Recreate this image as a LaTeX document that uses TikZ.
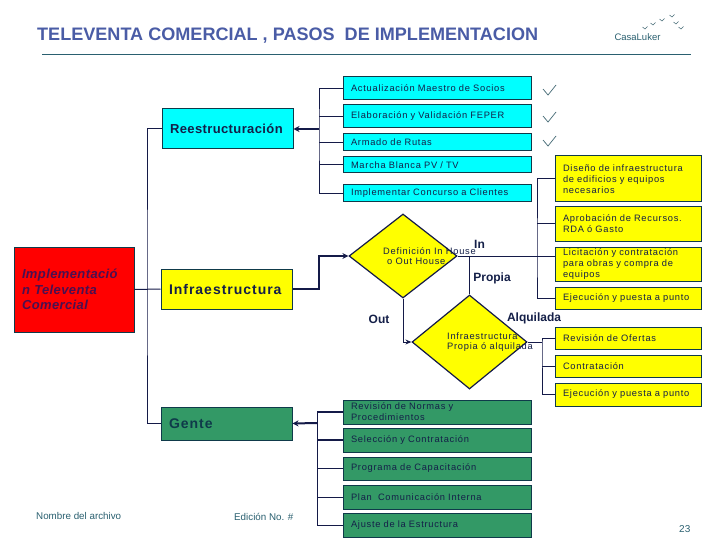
\documentclass[tikz,border=0pt]{standalone}
\usepackage{fontspec}
\setmainfont{Liberation Sans}
\newfontfamily\spaced[LetterSpace=8]{Liberation Sans}
\newfontfamily\spacedb[LetterSpace=3]{Liberation Sans}
\newfontfamily\spacedc[LetterSpace=3]{Liberation Sans}
\newfontfamily\spacedd[LetterSpace=7]{Liberation Sans}
\usetikzlibrary{shapes.geometric,arrows.meta,calc}
\definecolor{navy}{HTML}{141A48}
\definecolor{edgeteal}{HTML}{0F3A4A}
\definecolor{inktext}{HTML}{141F48}
\definecolor{titleblue}{HTML}{4A5CA6}
\definecolor{footteal}{HTML}{2A6070}
\definecolor{gengreen}{HTML}{339966}
\definecolor{pv}{HTML}{4A1050}
\definecolor{boxcyan}{RGB}{0,255,255}
\definecolor{boxyellow}{RGB}{255,255,0}
\definecolor{boxred}{RGB}{255,0,0}
\tikzset{
  x=1pt,y=-1pt,
  cbox/.style n args={3}{draw=edgeteal,line width=1pt,fill=#3,minimum width=#1 pt,minimum height=#2 pt,
     text width=#1 pt-16pt,inner xsep=8pt,inner ysep=0pt,align=left,text=inktext,
     font=\fontsize{9.3}{11}\selectfont\spaced},
  decide/.style={diamond,draw=navy,line width=1.2pt,fill=boxyellow,inner sep=0pt,aspect=1.3},
  thin link/.style={draw=navy,line width=1pt},
  thick link/.style={draw=navy,line width=2pt},
  linktip/.style={-{Stealth[length=6pt,width=6pt]}},
  edgetext/.style={font=\fontsize{12}{14}\selectfont\bfseries,text=inktext,inner sep=0pt},
  dtext/.style={font=\fontsize{9.3}{10}\selectfont\spaced,text=inktext,align=left,inner sep=0pt,anchor=west},
  foot/.style={font=\fontsize{9.8}{11}\selectfont,text=footteal,inner sep=0pt},
  birdmark/.style={draw=footteal!70!gray,line width=.5pt},
}
\begin{document}
\begin{tikzpicture}
\useasboundingbox (0,0) rectangle (720,540);
\fill[white] (0,0) rectangle (720,540);
% header
\node[anchor=west,inner sep=0pt,text=titleblue,font=\fontsize{18.07}{20}\selectfont\bfseries] (title) at (37,36) {TELEVENTA COMERCIAL , PASOS\ \ DE IMPLEMENTACION};
\coordinate (ruleL) at (42,54); \coordinate (ruleR) at (691,54);
\draw[draw=footteal,line width=.8pt] (ruleL) -- (ruleR);
\node[inner sep=0pt,text=footteal,font=\fontsize{9.5}{12}\selectfont] (logo) at (637.5,37) {CasaLuker};
\foreach \px/\py in {645/28,653/24,662/20,672/16,676/23,681/28}
  \draw[birdmark] (\px-2.5,\py-1) -- (\px,\py+1) -- (\px+2.5,\py-1.5);
\foreach \py in {90,117,141}
  \draw[birdmark,line width=.7pt] (543,\py-1) -- (548,\py+5) -- (556,\py-5);
% main
\node[cbox={120}{85}{boxred},font=\fontsize{13}{15.5}\selectfont\spacedb\bfseries\itshape,text=pv] (root) at (74,289.5) {Implementació\\n Televenta\\Comercial};
\node[cbox={131}{40}{boxcyan},font=\fontsize{13}{15}\selectfont\spacedc\bfseries] (reest) at (227.5,129) {Reestructuración};
\node[cbox={131}{40}{boxyellow},font=\fontsize{14}{15}\selectfont\spacedd\bfseries] (infra) at (226.5,289) {Infraestructura};
\node[cbox={131}{33}{gengreen},font=\fontsize{14}{15}\selectfont\spacedd\bfseries,text=edgeteal] (gente) at (226.5,423.5) {Gente};
% cyan
\node[cbox={188}{23}{boxcyan}] (a1) at (437,88.5) {Actualización Maestro de Socios};
\node[cbox={188}{23}{boxcyan}] (a2) at (437,116.5) {Elaboración y Validación FEPER};
\node[cbox={188}{17}{boxcyan}] (a3) at (437,142.5) {Armado de Rutas};
\node[cbox={188}{16}{boxcyan}] (a4) at (437,165) {Marcha Blanca PV / TV};
\node[cbox={188}{17}{boxcyan}] (a5) at (437,193.5) {Implementar Concurso a Clientes};
% yellow
\node[cbox={146}{46}{boxyellow}] (y1) at (628,179) {Diseño de infraestructura\\de edificios y equipos\\necesarios};
\node[cbox={146}{34}{boxyellow}] (y2) at (628,224) {Aprobación de Recursos.\\RDA ó Gasto};
\node[cbox={146}{34}{boxyellow}] (y3) at (628,264) {Licitación y contratación\\para obras y compra de\\equipos};
\node[cbox={146}{22}{boxyellow}] (y4) at (628,298) {Ejecución y puesta a punto};
\node[cbox={146}{22}{boxyellow}] (y5) at (628,338) {Revisión de Ofertas};
\node[cbox={146}{22}{boxyellow}] (y6) at (628,366) {Contratación};
\node[cbox={146}{23}{boxyellow}] (y7) at (628,394.5) {Ejecución y puesta a punto};
% green
\node[cbox={188}{24}{gengreen}] (g1) at (437,412) {Revisión de Normas y\\Procedimientos};
\node[cbox={188}{24}{gengreen}] (g2) at (437,440) {Selección y Contratación};
\node[cbox={188}{23}{gengreen}] (g3) at (437,468.5) {Programa de Capacitación};
\node[cbox={188}{24}{gengreen}] (g4) at (437,497) {Plan\ \ Comunicación Interna};
\node[cbox={188}{24}{gengreen}] (g5) at (437,525) {Ajuste de la Estructura};
% diamonds
\node[decide,minimum width=108pt,minimum height=84pt] (d1) at (403,256) {};
\node[decide,minimum width=115pt,minimum height=94pt] (d2) at (469.5,342) {};
% trunks
\coordinate (tr) at (319,129);
\coordinate (tm) at (147,289);
\coordinate (tg) at (317,423);
\coordinate (ty) at (537,257);
\coordinate (td) at (542,342);
% root tree
\draw[thin link] (root.east) -- (infra.west);
\draw[thin link] (reest.west) -| (tm) |- (gente.west);
% reestructuracion tree
\draw[thick link,linktip] (tr) -- (reest.east);
\draw[thin link] (a1.west) -| (tr) |- (a5.west);
\foreach \n in {a2,a3,a4} \draw[thin link] (\n.west) -- (\n.west -| tr);
% infra
\draw[thick link,linktip] (infra.east) -| ($(d1.west)+(-29,0)$) -- (d1.west);
\draw[thin link] (d1.east) -- (y3.west |- d1.east);
\draw[thin link] (y1.west) -| (ty) |- (y4.west);
\draw[thin link] (y2.west) -- (y2.west -| ty);
\draw[thin link] (d1.east -| d2.north) -- (d2.north);
\draw[thin link,-{Stealth[length=6pt,width=5pt]}] (d1.south) |- (d2.west);
\draw[thin link] (d2.east) -- (td);
\draw[thin link] (y5.west) -| (td) |- (y7.west);
\draw[thin link] (y6.west) -- (y6.west -| td);
% gente
\draw[thick link,linktip] (tg) -- (gente.east);
\draw[thick link] (g1.west) -- (g1.west -| tg);
\draw[thick link] (g2.west) -- (g2.west -| tg);
\draw[thin link] (g1.west -| tg) |- (g5.west);
\foreach \n in {g3,g4} \draw[thin link] (\n.west) -- (\n.west -| tg);
% labels
\node[dtext] (d1t) at (383,256.5) {Definición In House\\\hspace*{4pt}o Out House};
\node[dtext] (d2t) at (447,342) {Infraestructura\\Propia ó alquilada};
\node[edgetext] (lin) at (479.5,244) {In};
\node[edgetext] (lpr) at (492,278) {Propia};
\node[edgetext] (lout) at (379,319) {Out};
\node[edgetext] (lal) at (534,318) {Alquilada};
\node[foot,anchor=west] (f1) at (36,516) {Nombre del archivo};
\node[foot,anchor=west] (f2) at (234,517) {Edición No. \#};
\node[foot,anchor=west,font=\fontsize{10}{12}\selectfont] (f3) at (679,529) {23};
\end{tikzpicture}
\end{document}
